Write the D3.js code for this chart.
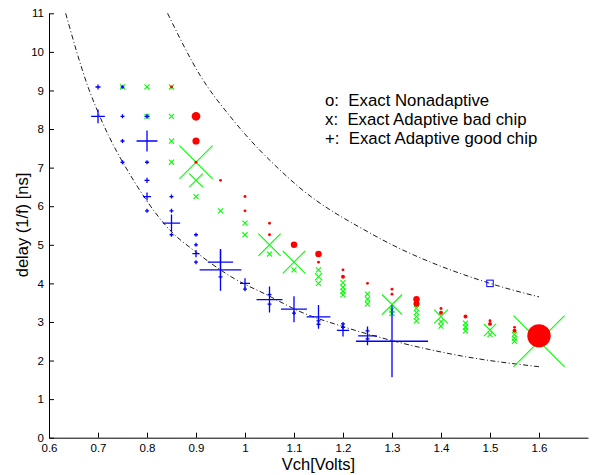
<!DOCTYPE html>
<html>
<head>
<meta charset="utf-8">
<script src="https://cdn.jsdelivr.net/npm/d3@7"></script>
<style>
  body { margin: 0; background: #fff; }
  text { font-family: "Liberation Sans", Arial, Helvetica, sans-serif; }
</style>
</head>
<body>
<div id="chart"></div>
<script>
// [Vch, delay(ns), weight] -- weight sets marker size
const nonadaptive = [
  [0.85, 9.09, 0.04],
  [0.9, 8.33, 0.12], [0.9, 7.69, 0.1], [0.9, 7.14, 0.04],
  [0.95, 6.67, 0.04],
  [1.0, 6.25, 0.04], [1.0, 5.88, 0.04],
  [1.05, 5.56, 0.04], [1.05, 5.26, 0.04],
  [1.1, 5.0, 0.09],
  [1.15, 4.76, 0.09], [1.15, 4.55, 0.04],
  [1.2, 4.35, 0.04], [1.2, 4.17, 0.055],
  [1.25, 4.0, 0.04],
  [1.3, 3.85, 0.04], [1.3, 3.72, 0.04],
  [1.35, 3.59, 0.09], [1.35, 3.47, 0.085],
  [1.4, 3.35, 0.04], [1.4, 3.24, 0.055],
  [1.45, 3.14, 0.055],
  [1.5, 3.03, 0.04], [1.5, 2.95, 0.055],
  [1.55, 2.86, 0.04], [1.55, 2.77, 0.055],
  [1.6, 2.64, 0.325]
];

const badChip = [
  [0.75, 9.09, 0.07],
  [0.8, 9.09, 0.07], [0.8, 8.33, 0.07],
  [0.85, 9.09, 0.07], [0.85, 8.33, 0.07], [0.85, 7.69, 0.07], [0.85, 7.14, 0.07],
  [0.9, 7.14, 0.46], [0.9, 6.67, 0.19], [0.9, 6.25, 0.07],
  [0.95, 5.88, 0.07],
  [1.0, 5.56, 0.07], [1.0, 5.26, 0.07],
  [1.05, 5.0, 0.31], [1.05, 4.76, 0.07],
  [1.1, 4.55, 0.31], [1.1, 4.35, 0.07],
  [1.15, 4.35, 0.07], [1.15, 4.17, 0.1], [1.15, 4.0, 0.07],
  [1.2, 4.02, 0.07], [1.2, 3.9, 0.07], [1.2, 3.79, 0.07], [1.2, 3.7, 0.07],
  [1.25, 3.72, 0.07], [1.25, 3.59, 0.07], [1.25, 3.46, 0.07],
  [1.3, 3.45, 0.28], [1.3, 3.31, 0.07], [1.3, 3.22, 0.07],
  [1.35, 3.35, 0.07], [1.35, 3.24, 0.07], [1.35, 3.14, 0.07], [1.35, 3.03, 0.07],
  [1.4, 3.14, 0.19], [1.4, 3.01, 0.07], [1.4, 2.89, 0.07],
  [1.45, 2.97, 0.07], [1.45, 2.86, 0.07], [1.45, 2.77, 0.07],
  [1.5, 2.79, 0.17], [1.5, 2.67, 0.07],
  [1.55, 2.67, 0.07], [1.55, 2.58, 0.07], [1.55, 2.5, 0.07],
  [1.6, 2.5, 0.71]
];

const goodChip = [
  [0.7, 9.09, 0.07], [0.7, 8.33, 0.19],
  [0.75, 9.09, 0.05], [0.75, 8.33, 0.055], [0.75, 7.69, 0.055], [0.75, 7.14, 0.055],
  [0.8, 8.33, 0.07], [0.8, 7.69, 0.29], [0.8, 7.14, 0.055], [0.8, 6.67, 0.07],
  [0.8, 6.25, 0.11], [0.8, 5.88, 0.055],
  [0.85, 6.25, 0.055], [0.85, 5.88, 0.055], [0.85, 5.56, 0.24], [0.85, 5.26, 0.055],
  [0.9, 5.26, 0.055], [0.9, 5.0, 0.055], [0.9, 4.77, 0.1], [0.9, 4.55, 0.055],
  [0.95, 4.55, 0.35], [0.95, 4.35, 0.58], [0.95, 4.17, 0.055],
  [1.0, 4.0, 0.14], [1.0, 3.85, 0.055],
  [1.05, 3.71, 0.055], [1.05, 3.58, 0.36], [1.05, 3.46, 0.055],
  [1.1, 3.33, 0.36], [1.1, 3.23, 0.055],
  [1.15, 3.13, 0.33], [1.15, 3.03, 0.055], [1.15, 2.94, 0.055],
  [1.2, 2.95, 0.055], [1.2, 2.86, 0.055], [1.2, 2.78, 0.17],
  [1.25, 2.77, 0.055], [1.25, 2.64, 0.26], [1.25, 2.56, 0.055],
  [1.3, 2.5, 1.0]
];

const squarePoint = [[1.5, 4.0, 0.09]];

// dash-dot bounding curves
const lowerBound = [
  [0.634, 11.0], [0.68, 9.08], [0.704, 8.32], [0.775, 6.62], [0.853, 5.3],
  [0.894, 4.87], [0.976, 4.14], [1.045, 3.7], [1.112, 3.27], [1.2, 2.88],
  [1.299, 2.52], [1.45, 2.1], [1.6, 1.84]
];
const upperBound = [
  [0.842, 11.0], [0.908, 9.4], [0.976, 8.23], [1.077, 6.87], [1.105, 6.55],
  [1.26, 5.27], [1.5, 4.0], [1.6, 3.65]
];

const xTicks = [0.6, 0.7, 0.8, 0.9, 1.0, 1.1, 1.2, 1.3, 1.4, 1.5, 1.6];
const yTicks = [0, 1, 2, 3, 4, 5, 6, 7, 8, 9, 10, 11];
const legendLines = ["o:  Exact Nonadaptive", "x:  Exact Adaptive bad chip", "+:  Exact Adaptive good chip"];

const W = 592, H = 475;
const margin = { top: 13.3, right: 4, bottom: 37.3, left: 49 };

const svg = d3.select("#chart").append("svg")
  .attr("width", W).attr("height", H);

const x = d3.scaleLinear().domain([0.6, 1.7]).range([margin.left, W - margin.right]);
const y = d3.scaleLinear().domain([0, 11]).range([H - margin.bottom, margin.top]);
const size = d3.scaleLinear().domain([0, 1]).range([0, 36]);

// bounding curves
const line = d3.line().x(d => x(d[0])).y(d => y(d[1])).curve(d3.curveMonotoneX);
[lowerBound, upperBound].forEach(c => {
  svg.append("path")
    .attr("d", line(c))
    .attr("fill", "none")
    .attr("stroke", "#000")
    .attr("stroke-width", 0.9)
    .attr("stroke-dasharray", "5,2.5,1,2.5");
});

// green x markers
svg.append("g").selectAll("path")
  .data(badChip)
  .join("path")
  .attr("d", d => {
    const cx = x(d[0]), cy = y(d[1]), s = size(d[2]);
    return `M${cx - s},${cy - s}L${cx + s},${cy + s}M${cx - s},${cy + s}L${cx + s},${cy - s}`;
  })
  .attr("stroke", "#00ff00")
  .attr("stroke-width", 1.1)
  .attr("fill", "none");

// red circles
svg.append("g").selectAll("circle")
  .data(nonadaptive)
  .join("circle")
  .attr("cx", d => x(d[0]))
  .attr("cy", d => y(d[1]))
  .attr("r", d => size(d[2]))
  .attr("fill", "#ff0000");

// blue + markers
svg.append("g").selectAll("path")
  .data(goodChip)
  .join("path")
  .attr("d", d => {
    const cx = x(d[0]), cy = y(d[1]), s = size(d[2]);
    return `M${cx - s},${cy}L${cx + s},${cy}M${cx},${cy - s}L${cx},${cy + s}`;
  })
  .attr("stroke", "#0000ff")
  .attr("stroke-width", 1.3)
  .attr("fill", "none");

// blue square
svg.append("g").selectAll("rect")
  .data(squarePoint)
  .join("rect")
  .attr("x", d => x(d[0]) - size(d[2]))
  .attr("y", d => y(d[1]) - size(d[2]))
  .attr("width", d => 2 * size(d[2]))
  .attr("height", d => 2 * size(d[2]))
  .attr("fill", "none")
  .attr("stroke", "#0000ff")
  .attr("stroke-width", 1);

// axes (MATLAB style: ticks pointing inward)
const xAxis = svg.append("g")
  .attr("transform", `translate(0,${y(0)})`)
  .call(d3.axisBottom(x).tickValues(xTicks).tickFormat(d3.format("~g"))
    .tickSizeInner(-5).tickSizeOuter(0).tickPadding(6));
const yAxis = svg.append("g")
  .attr("transform", `translate(${x(0.6)},0)`)
  .call(d3.axisLeft(y).tickValues(yTicks).tickFormat(d3.format("d"))
    .tickSizeInner(-5).tickSizeOuter(0).tickPadding(5));

[xAxis, yAxis].forEach(a => {
  a.selectAll("text").attr("font-size", 11.5).attr("fill", "#000")
    .style("font-family", '"Liberation Sans", Arial, Helvetica, sans-serif');
  a.selectAll("line").attr("stroke", "#000");
  a.select(".domain").attr("stroke", "#000");
});

// axis titles
svg.append("text")
  .attr("x", 318.5).attr("y", 470)
  .attr("text-anchor", "middle")
  .attr("font-size", 16.5)
  .text("Vch[Volts]");

svg.append("text")
  .attr("transform", "translate(28,225) rotate(-90)")
  .attr("text-anchor", "middle")
  .attr("font-size", 16.5)
  .text("delay (1/f) [ns]");

// legend text
svg.append("g").selectAll("text")
  .data(legendLines)
  .join("text")
  .attr("x", 325)
  .attr("y", (d, i) => 106 + i * 19.2)
  .attr("font-size", 16.8)
  .attr("xml:space", "preserve")
  .style("white-space", "pre")
  .text(d => d);
</script>
</body>
</html>
